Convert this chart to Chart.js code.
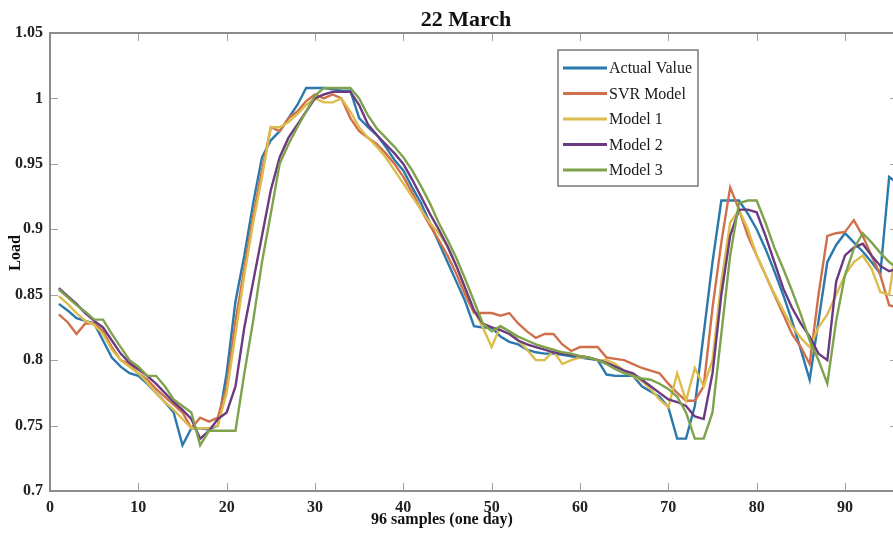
<!DOCTYPE html>
<html>
<head>
<meta charset="utf-8">
<script src="https://cdn.jsdelivr.net/npm/chart.js@4.4.1/dist/chart.umd.min.js"></script>
<style>
  html, body { margin: 0; padding: 0; background: #fff; overflow: hidden; }
  #box { width: 905px; height: 533px; }
</style>
</head>
<body>
<div id="box"><canvas id="load" width="905" height="533"></canvas></div>
<script>
// sample index 1..96 (one day, 15 min steps)
var samples = [];
for (var i = 1; i <= 96; i++) samples.push(i);

var seriesNames = ['Actual Value', 'SVR Model', 'Model 1', 'Model 2', 'Model 3'];
var seriesColors = ['#2b78ad', '#d0704a', '#dcbc4c', '#6b3a80', '#7ea34c'];

var xTicks = [0, 10, 20, 30, 40, 50, 60, 70, 80, 90];
var yTicks = [0.7, 0.75, 0.8, 0.85, 0.9, 0.95, 1, 1.05];

var actual = [
  0.843, 0.838, 0.832, 0.830, 0.828, 0.815, 0.802, 0.795, 0.790, 0.788,
  0.782, 0.775, 0.768, 0.760, 0.735, 0.748, 0.748, 0.747, 0.750, 0.790,
  0.845, 0.880, 0.920, 0.955, 0.968, 0.975, 0.985, 0.995, 1.008, 1.008,
  1.008, 1.007, 1.006, 1.006, 0.985, 0.978, 0.972, 0.963, 0.953, 0.945,
  0.932, 0.920, 0.905, 0.890, 0.875, 0.860, 0.845, 0.826, 0.825, 0.825,
  0.818, 0.814, 0.812, 0.808, 0.806, 0.805, 0.805, 0.804, 0.803, 0.802,
  0.801, 0.800, 0.789, 0.788, 0.788, 0.788, 0.780, 0.776, 0.772, 0.764,
  0.740, 0.740, 0.765, 0.820, 0.875, 0.922, 0.922, 0.922, 0.912, 0.900,
  0.885, 0.868, 0.850, 0.830, 0.808, 0.785, 0.830, 0.875, 0.888, 0.897,
  0.890, 0.883, 0.875, 0.866, 0.940, 0.935
];

var svr = [
  0.835, 0.829, 0.820, 0.828, 0.828, 0.822, 0.810, 0.800, 0.797, 0.790,
  0.785, 0.778, 0.772, 0.766, 0.760, 0.748, 0.756, 0.753, 0.756, 0.780,
  0.830, 0.870, 0.910, 0.945, 0.978, 0.975, 0.985, 0.990, 0.998, 1.003,
  1.000, 1.003, 1.000, 0.985, 0.975, 0.970, 0.965, 0.958, 0.950, 0.940,
  0.928, 0.915, 0.903, 0.892, 0.880, 0.866, 0.850, 0.836, 0.836, 0.836,
  0.834, 0.836, 0.828, 0.822, 0.817, 0.820, 0.820, 0.812, 0.807, 0.810,
  0.810, 0.810, 0.802, 0.801, 0.800, 0.797, 0.794, 0.792, 0.790, 0.782,
  0.775, 0.769, 0.769, 0.780, 0.840, 0.890, 0.932, 0.915, 0.895, 0.880,
  0.865, 0.850, 0.835, 0.820, 0.810, 0.797, 0.850, 0.895, 0.897, 0.898,
  0.907, 0.895, 0.880, 0.865, 0.842, 0.840
];

var model1 = [
  0.849, 0.843, 0.836, 0.830, 0.827, 0.820, 0.808, 0.800, 0.795, 0.790,
  0.783, 0.775, 0.768, 0.762, 0.755, 0.748, 0.748, 0.748, 0.750, 0.775,
  0.820, 0.865, 0.905, 0.940, 0.978, 0.978, 0.982, 0.988, 0.995, 1.000,
  0.997, 0.997, 1.000, 0.990, 0.978, 0.970, 0.963, 0.955, 0.945, 0.935,
  0.925, 0.915, 0.905, 0.897, 0.887, 0.872, 0.855, 0.838, 0.825, 0.810,
  0.826, 0.822, 0.815, 0.808, 0.800, 0.800, 0.807, 0.797, 0.800, 0.802,
  0.802, 0.800, 0.800, 0.797, 0.792, 0.788, 0.784, 0.778, 0.770, 0.764,
  0.790, 0.769, 0.794, 0.780, 0.800, 0.860, 0.905, 0.915, 0.900, 0.880,
  0.865, 0.851, 0.838, 0.826, 0.817, 0.810, 0.825, 0.835, 0.850, 0.865,
  0.875, 0.880, 0.870, 0.852, 0.850, 0.895
];

var model2 = [
  0.855, 0.849, 0.843, 0.836, 0.830, 0.825, 0.815, 0.805, 0.798, 0.793,
  0.788, 0.782, 0.775, 0.768, 0.762, 0.755, 0.740, 0.746, 0.755, 0.760,
  0.780, 0.825, 0.860, 0.895, 0.930, 0.955, 0.970, 0.980, 0.990, 1.000,
  1.003, 1.005, 1.005, 1.005, 0.995, 0.980, 0.972, 0.965, 0.958, 0.950,
  0.938, 0.925, 0.912, 0.900, 0.887, 0.872, 0.855, 0.838, 0.828, 0.825,
  0.823, 0.820, 0.815, 0.812, 0.810, 0.808, 0.806, 0.805, 0.804, 0.803,
  0.802, 0.800, 0.798, 0.795, 0.792, 0.790, 0.785, 0.780, 0.775, 0.770,
  0.768, 0.765, 0.757, 0.755, 0.790, 0.850, 0.895, 0.915, 0.915, 0.913,
  0.895, 0.875, 0.855, 0.840, 0.828, 0.818, 0.805, 0.800, 0.860, 0.880,
  0.886, 0.889, 0.880, 0.872, 0.868, 0.870
];

var model3 = [
  0.854, 0.848, 0.842, 0.837, 0.831, 0.831, 0.820, 0.810, 0.800, 0.795,
  0.788, 0.788, 0.780, 0.770, 0.765, 0.760, 0.735, 0.746, 0.746, 0.746,
  0.746, 0.790, 0.830, 0.875, 0.912, 0.950, 0.965, 0.978, 0.990, 1.002,
  1.008, 1.008, 1.008, 1.008, 1.000, 0.987, 0.977, 0.970, 0.963, 0.955,
  0.945, 0.933, 0.920, 0.905, 0.892, 0.878, 0.862, 0.845, 0.828, 0.822,
  0.826, 0.822, 0.818, 0.815, 0.812, 0.810, 0.808, 0.806, 0.805, 0.803,
  0.802, 0.800, 0.797, 0.793, 0.790, 0.788, 0.786, 0.785, 0.782, 0.778,
  0.772, 0.760, 0.740, 0.740, 0.760, 0.820, 0.880, 0.920, 0.922, 0.922,
  0.905, 0.886, 0.870, 0.853, 0.835, 0.815, 0.800, 0.782, 0.830, 0.865,
  0.885, 0.897, 0.890, 0.882, 0.875, 0.870
];

var allSeries = [actual, svr, model1, model2, model3];

function points(vals) {
    var out = [];
    for (var i = 0; i < vals.length; i++) {
        out.push({x: samples[i], y: vals[i]});
    }
    return out;
}

var datasets = [];
for (var s = 0; s < allSeries.length; s++) {
    datasets.push({
        label: seriesNames[s],
        data: points(allSeries[s]),
        borderColor: seriesColors[s],
        backgroundColor: seriesColors[s],
        borderWidth: 2.4,
        pointRadius: 0,
        tension: 0,
        order: allSeries.length - s   // later series on top, like matlab
    });
}

var serif = '"Liberation Serif", "Times New Roman", serif';

// frame, inward ticks, titles and the boxed legend
var decorations = {
    id: 'decorations',
    afterDraw: function(chart) {
        var ctx = chart.ctx;
        var a = chart.chartArea;
        var xs = chart.scales.x, ys = chart.scales.y;
        ctx.save();

        ctx.strokeStyle = '#a0a0a0';
        ctx.lineWidth = 1;
        ctx.beginPath();
        xs.ticks.forEach(function(t) {
            var px = Math.round(xs.getPixelForValue(t.value)) + 0.5;
            ctx.moveTo(px, a.bottom); ctx.lineTo(px, a.bottom - 8);
            ctx.moveTo(px, a.top); ctx.lineTo(px, a.top + 8);
        });
        ys.ticks.forEach(function(t) {
            var py = Math.round(ys.getPixelForValue(t.value)) + 0.5;
            ctx.moveTo(a.left, py); ctx.lineTo(a.left + 8, py);
            ctx.moveTo(a.right, py); ctx.lineTo(a.right - 8, py);
        });
        ctx.stroke();

        ctx.strokeStyle = '#8c8c8c';
        ctx.lineWidth = 2;
        ctx.strokeRect(a.left, a.top, a.right - a.left, a.bottom - a.top);

        ctx.fillStyle = '#111';
        ctx.textAlign = 'center';
        ctx.textBaseline = 'middle';
        ctx.font = 'bold 22px ' + serif;
        ctx.fillText('22 March', 466, 20);

        ctx.font = 'bold 16px ' + serif;
        ctx.fillText('96 samples (one day)', 442, 520);

        ctx.save();
        ctx.translate(16, 253);
        ctx.rotate(-Math.PI / 2);
        ctx.fillText('Load', 0, 0);
        ctx.restore();

        // legend
        var lx = 558, ly = 50, lw = 140, lh = 136;
        ctx.fillStyle = '#fff';
        ctx.fillRect(lx, ly, lw, lh);
        ctx.strokeStyle = '#7a7a7a';
        ctx.lineWidth = 1.5;
        ctx.strokeRect(lx, ly, lw, lh);
        ctx.font = '16px ' + serif;
        ctx.textAlign = 'left';
        chart.data.datasets.forEach(function(ds, k) {
            var yy = ly + 18 + k * 25.5;
            ctx.strokeStyle = ds.borderColor;
            ctx.lineWidth = 3;
            ctx.beginPath();
            ctx.moveTo(lx + 5, yy);
            ctx.lineTo(lx + 49, yy);
            ctx.stroke();
            ctx.fillStyle = '#1a1a1a';
            ctx.fillText(ds.label, lx + 51, yy + 1);
        });

        ctx.restore();
    }
};

var ctx = document.getElementById('load').getContext('2d');
var loadChart = new Chart(ctx, {
    type: 'line',
    data: { datasets: datasets },
    options: {
        responsive: false,
        animation: false,
        devicePixelRatio: 1,
        layout: { padding: { top: 33, right: 7, left: 0, bottom: 0 } },
        plugins: {
            legend: { display: false },
            title: { display: false },
            tooltip: { enabled: false }
        },
        scales: {
            x: {
                type: 'linear',
                min: 0,
                max: 96,
                grid: { display: false, drawTicks: false },
                border: { display: false },
                afterBuildTicks: function(scale) {
                    scale.ticks = xTicks.map(function(v) { return {value: v}; });
                },
                afterFit: function(scale) { scale.height = 42; },
                ticks: {
                    padding: 7,
                    maxRotation: 0,
                    autoSkip: false,
                    color: '#222',
                    font: { family: serif, size: 16, weight: 'bold' },
                    callback: function(v) { return v; }
                }
            },
            y: {
                type: 'linear',
                min: 0.7,
                max: 1.05,
                grid: { display: false, drawTicks: false },
                border: { display: false },
                afterBuildTicks: function(scale) {
                    scale.ticks = yTicks.map(function(v) { return {value: v}; });
                },
                afterFit: function(scale) { scale.width = 50; },
                ticks: {
                    padding: 7,
                    autoSkip: false,
                    color: '#222',
                    font: { family: serif, size: 16, weight: 'bold' },
                    callback: function(v) { return String(+v.toFixed(2)); }
                }
            }
        }
    },
    plugins: [decorations]
});
</script>
</body>
</html>
